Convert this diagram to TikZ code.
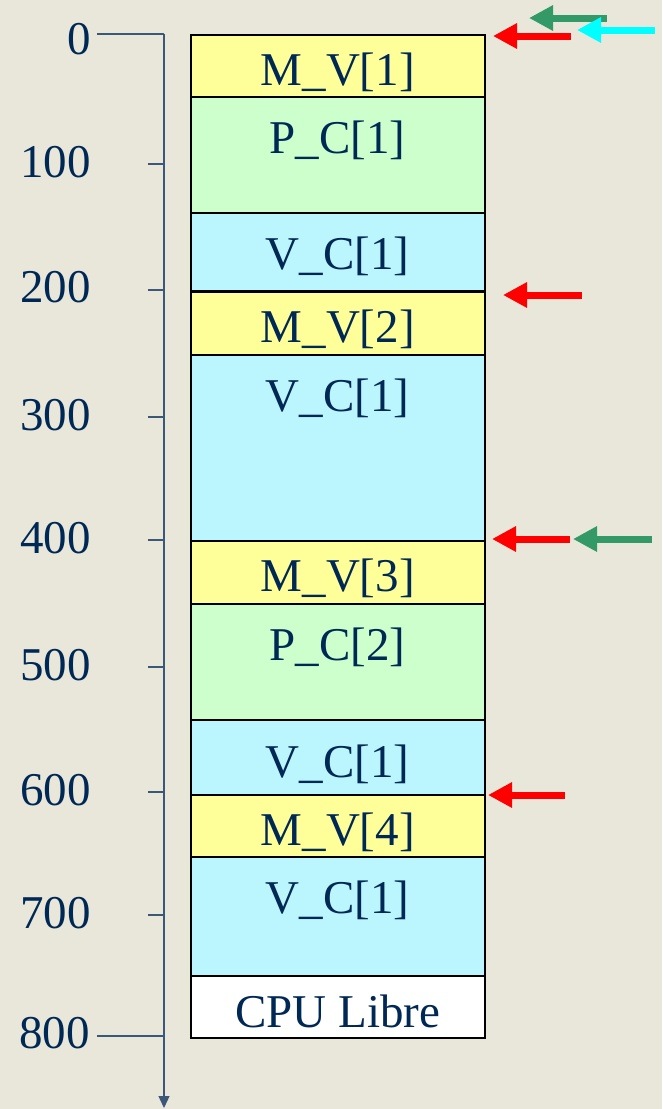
\documentclass[tikz,border=0pt]{standalone}
\usepackage{fontspec}
\setmainfont{Liberation Serif}
\usetikzlibrary{calc, arrows.meta}
\definecolor{bgPaper}{RGB}{232,231,218}
\definecolor{memYellow}{RGB}{255,255,153}
\definecolor{memGreen}{RGB}{204,255,204}
\definecolor{memCyan}{RGB}{187,246,255}
\definecolor{inkBlue}{RGB}{0,40,85}
\definecolor{axisBlue}{RGB}{60,88,120}
\definecolor{ptrGreen}{RGB}{51,153,102}
\definecolor{ptrCyan}{RGB}{0,255,255}

\begin{document}
\begin{tikzpicture}[x=1pt, y=-1pt, font=\fontsize{47}{56}\selectfont,
    block/.style={draw=black, line width=1.5pt, anchor=north west, inner sep=0pt,
      minimum width=294pt, text=inkBlue},
    tick/.style={axisBlue, line width=1.3pt},
    ptr/.style={line width=7pt, -{Triangle[length=24pt, width=24pt]}}]
  \fill[bgPaper] (0,0) rectangle (662,1109);
  \useasboundingbox (0,0) rectangle (662,1109);

  % memory blocks: name / top / height / baseline / fill / text
  \foreach \nm/\ytop/\hgt/\bl/\col/\txt in {
      mvA/34/62/51/memYellow/M\_V[1],
      pcA/96/116/57/memGreen/P\_C[1],
      vcA/212/78/57/memCyan/V\_C[1],
      mvB/291/63/51/memYellow/M\_V[2],
      vcB/354/186/57/memCyan/V\_C[1],
      mvC/540/63/51/memYellow/M\_V[3],
      pcB/603/116/57/memGreen/P\_C[2],
      vcC/719/75/58/memCyan/V\_C[1],
      mvD/794/62/51/memYellow/M\_V[4],
      vcD/856/119/57/memCyan/V\_C[1],
      free/975/62/52/white/CPU Libre}
  {
    \pgfmathsetmacro{\dpth}{\hgt-\bl}
    \node[block, fill=\col, text height=\bl pt, text depth=\dpth pt] (\nm) at (190,\ytop) {\txt};
  }

  % address axis
  \coordinate (axTop) at (164,34);
  \coordinate (axEnd) at (164,1108);
  \draw[tick, -{Triangle[length=12pt, width=11pt]}] (axTop) -- (axEnd);
  \foreach \v/\ty/\ly in {100/164/162, 200/290/287, 300/417/415, 400/540/538,
      500/667/665, 600/792/790, 700/915/913}
  {
    \coordinate (t\v) at (164,\ty);
    \draw[tick] (t\v) -- ++(-16,0);
    \node[anchor=east, inner sep=0pt, text=inkBlue] (l\v) at (91,\ly) {\v};
  }
  \coordinate (t0) at (164,34);
  \coordinate (t800) at (164,1036);
  \draw[tick] (t0) -- ++(-67,0);
  \draw[tick] (t800) -- ++(-67,0);
  \node[anchor=east, inner sep=0pt, text=inkBlue] (l0) at (91,39) {0};
  \node[anchor=east, inner sep=0pt, text=inkBlue] (l800) at (90,1033) {800};

  % pointers
  \coordinate (rAs) at (571,36);  \coordinate (rAe) at (493,36);
  \coordinate (gAs) at (607,18);  \coordinate (gAe) at (529,18);
  \coordinate (cAs) at (655,30);  \coordinate (cAe) at (577,30);
  \coordinate (rBs) at (582,295); \coordinate (rBe) at (503,295);
  \coordinate (rCs) at (570,539); \coordinate (rCe) at (492,539);
  \coordinate (gCs) at (652,539); \coordinate (gCe) at (573,539);
  \coordinate (rDs) at (565,795); \coordinate (rDe) at (488,795);
  \draw[ptr, red] (rAs) -- (rAe);
  \draw[ptr, ptrGreen] (gAs) -- (gAe);
  \draw[ptr, ptrCyan] (cAs) -- (cAe);
  \draw[ptr, red] (rBs) -- (rBe);
  \draw[ptr, red] (rCs) -- (rCe);
  \draw[ptr, ptrGreen] (gCs) -- (gCe);
  \draw[ptr, red] (rDs) -- (rDe);
\end{tikzpicture}
\end{document}
